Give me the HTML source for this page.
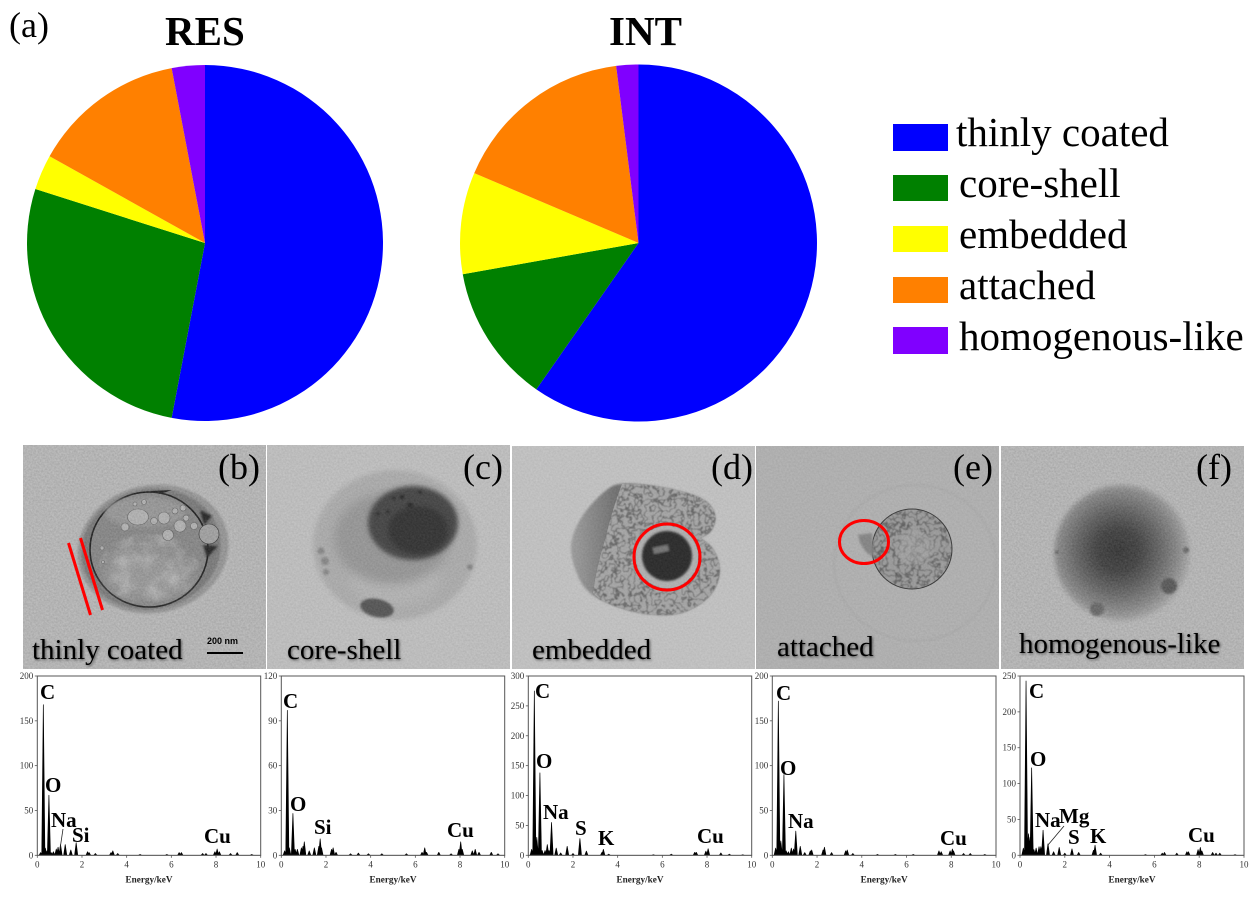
<!DOCTYPE html>
<html>
<head>
<meta charset="utf-8">
<title>Particle mixing states</title>
<style>
html,body{margin:0;padding:0;background:#fff;width:1260px;height:897px;overflow:hidden}
svg{display:block}
text{font-family:"Liberation Serif",serif;fill:#000}
.panel-letter{font-size:36px}
.panel-label{font-size:29px;filter:drop-shadow(1.2px 1.2px 1.2px rgba(0,0,0,.55))}
.legend-text{font-size:41px}
.title{font-size:41px;font-weight:bold}
.tick{font-size:9px;fill:#333}
.axis-title{font-size:9.2px;font-weight:bold;fill:#222}
.peak-label{font-size:21px;font-weight:bold}
</style>
</head>
<body>
<svg id="figure" xmlns="http://www.w3.org/2000/svg" width="1260" height="897" viewBox="0 0 1260 897">
<defs>
  <filter id="grain" x="0" y="0" width="100%" height="100%" color-interpolation-filters="sRGB">
    <feTurbulence type="fractalNoise" baseFrequency="0.55" numOctaves="2" seed="7"/>
    <feColorMatrix values="1 0 0 0 0  1 0 0 0 0  1 0 0 0 0  0 0 0 0 1"/>
  </filter>
  <filter id="cells" x="-5%" y="-5%" width="110%" height="110%" color-interpolation-filters="sRGB">
    <feTurbulence type="fractalNoise" baseFrequency="0.17" numOctaves="2" seed="4"/>
    <feColorMatrix values="0 0 0 0 0.15  0 0 0 0 0.15  0 0 0 0 0.15  1.5 0 0 0 -0.25"/>
    <feComponentTransfer><feFuncA type="table" tableValues="0 0 0 0 .6 0 0 0 0 0"/></feComponentTransfer>
    <feComposite in2="SourceAlpha" operator="in"/>
    <feGaussianBlur stdDeviation="0.5"/>
  </filter>
  <filter id="mottle" x="-5%" y="-5%" width="110%" height="110%" color-interpolation-filters="sRGB">
    <feTurbulence type="fractalNoise" baseFrequency="0.06" numOctaves="3" seed="11"/>
    <feColorMatrix values="0 0 0 0 0.8  0 0 0 0 0.8  0 0 0 0 0.8  2.4 0 0 0 -0.95"/>
    <feComposite in2="SourceAlpha" operator="in"/>
    <feGaussianBlur stdDeviation="0.7"/>
  </filter>
  <filter id="soft1"><feGaussianBlur stdDeviation="1"/></filter>
  <filter id="soft2"><feGaussianBlur stdDeviation="2.5"/></filter>
  <filter id="soft4" x="-30%" y="-30%" width="160%" height="160%"><feGaussianBlur stdDeviation="5"/></filter>
  <radialGradient id="gradF" cx="0.47" cy="0.48" r="0.52">
    <stop offset="0" stop-color="#333"/><stop offset="0.3" stop-color="#3f3f3f"/>
    <stop offset="0.6" stop-color="#666"/><stop offset="0.85" stop-color="#8c8c8c"/><stop offset="1" stop-color="#aaa"/>
  </radialGradient>
  <linearGradient id="gradD" x1="0" x2="1" y1="0" y2="0">
    <stop offset="0" stop-color="#a0a0a0"/><stop offset="0.3" stop-color="#727272"/><stop offset="0.6" stop-color="#777"/>
  </linearGradient>
  <clipPath id="clip-b"><rect x="23" y="445" width="243" height="224"/></clipPath>
  <clipPath id="clip-c"><rect x="267" y="445" width="243" height="224"/></clipPath>
  <clipPath id="clip-d"><rect x="512" y="446" width="243" height="223"/></clipPath>
  <clipPath id="clip-e"><rect x="756" y="446" width="243" height="223"/></clipPath>
  <clipPath id="clip-f"><rect x="1001" y="446" width="243" height="223"/></clipPath>
</defs>

<text class="panel-letter" x="9" y="37">(a)</text>
<text class="title" x="165" y="45">RES</text>
<text class="title" x="609" y="45">INT</text>
<g id="pies"></g>

<g id="legend">
  <g><rect x="893" y="124" width="55" height="27" fill="#0000ff"/><text class="legend-text" x="956" y="146">thinly coated</text></g>
  <g><rect x="893" y="175" width="55" height="26" fill="#008000"/><text class="legend-text" x="959" y="197">core-shell</text></g>
  <g><rect x="893" y="226" width="55" height="26" fill="#ffff00"/><text class="legend-text" x="959" y="248">embedded</text></g>
  <g><rect x="893" y="277" width="55" height="26" fill="#ff8000"/><text class="legend-text" x="959" y="299">attached</text></g>
  <g><rect x="893" y="327" width="55" height="27" fill="#8000ff"/><text class="legend-text" x="959" y="350">homogenous-like</text></g>
</g>

<!-- TEM panel b -->
<g clip-path="url(#clip-b)">
  <rect x="23" y="445" width="243" height="224" fill="#bdbdbd"/>
  <ellipse cx="153" cy="549" rx="76" ry="64" transform="rotate(-12 153 549)" fill="#9a9a9a" filter="url(#soft1)"/>
  <ellipse cx="151" cy="549" rx="70" ry="60" transform="rotate(-12 151 549)" fill="#7c7c7c" filter="url(#soft1)"/>
  <ellipse cx="149" cy="549.500" rx="59" ry="57.500" fill="#8a8a8a" stroke="#1c1c1c" stroke-width="1.6"/>
  <ellipse cx="148" cy="575" rx="44" ry="24" fill="#9d9d9d" filter="url(#soft4)"/>
  <ellipse cx="145" cy="512" rx="40" ry="15" fill="#9c9c9c" filter="url(#soft2)"/>
  <ellipse cx="149" cy="568" rx="50" ry="34" fill="#000" filter="url(#mottle)" opacity=".55"/>
  <g fill="#b8b8b8" stroke="#6a6a6a" stroke-width=".6">
    <ellipse cx="138" cy="517" rx="10.500" ry="8"/><circle cx="164" cy="518" r="6"/><circle cx="154" cy="521" r="3.500"/>
    <circle cx="180" cy="526" r="6"/><circle cx="168" cy="535" r="5.500"/><circle cx="209" cy="534" r="10" fill="#a6a6a6" stroke="#333"/>
    <circle cx="125" cy="527" r="4"/><circle cx="175" cy="511" r="3"/><circle cx="183" cy="508" r="3"/><circle cx="186" cy="518" r="3"/><circle cx="194" cy="526" r="3.500"/>
    <circle cx="144" cy="502" r="2.500"/><circle cx="135" cy="504" r="2"/><circle cx="102" cy="548" r="2"/><circle cx="103" cy="562" r="1.500"/>
  </g>
  <path d="M200 510 L212 516 L204 525Z M203 545 L218 546 L207 558Z" fill="#222" filter="url(#soft1)"/>
  <path d="M150 491 L172 490 L160 494Z" fill="#222"/>
  <rect x="23" y="445" width="243" height="224" filter="url(#grain)" opacity=".14"/>
  <line x1="68.500" y1="543" x2="90.500" y2="615" stroke="#ff0000" stroke-width="3"/>
  <line x1="80.500" y1="538" x2="102.500" y2="610" stroke="#ff0000" stroke-width="3"/>
  <text x="207" y="644" style="font-family:'Liberation Sans',sans-serif;font-size:9px;font-weight:bold">200 nm</text>
  <rect x="207" y="652" width="36" height="2" fill="#000"/>
  <text class="panel-label" x="32" y="659">thinly coated</text>
  <text class="panel-letter" x="218" y="479">(b)</text>
</g>

<!-- TEM panel c -->
<g clip-path="url(#clip-c)">
  <rect x="267" y="445" width="243" height="224" fill="#c4c4c4"/>
  <ellipse cx="395" cy="545" rx="82" ry="75" fill="#b0b0b0" filter="url(#soft2)"/>
  <ellipse cx="395" cy="580" rx="45" ry="25" fill="#b8b8b8" filter="url(#soft4)"/>
  <ellipse cx="392" cy="538" rx="58" ry="46" fill="#9a9a9a" filter="url(#soft4)"/>
  <ellipse cx="413" cy="523" rx="45" ry="37" fill="#454545" filter="url(#soft2)"/>
  <ellipse cx="418" cy="530" rx="30" ry="24" fill="#333" filter="url(#soft2)"/>
  <g fill="#222" filter="url(#soft1)"><circle cx="402" cy="497" r="2"/><circle cx="410" cy="505" r="2.500"/><circle cx="388" cy="512" r="1.500"/><circle cx="378" cy="514" r="1.500"/><circle cx="394" cy="498" r="1.500"/><circle cx="420" cy="492" r="1.500"/></g>
  <ellipse cx="377" cy="608" rx="17" ry="9" transform="rotate(12 377 608)" fill="#565656" filter="url(#soft1)"/>
  <g fill="#888" filter="url(#soft1)"><circle cx="321" cy="551" r="3.500"/><circle cx="325" cy="561" r="4"/><circle cx="326" cy="572" r="3"/><circle cx="470" cy="567" r="3"/></g>
  <rect x="267" y="445" width="243" height="224" filter="url(#grain)" opacity=".1"/>
  <text class="panel-label" x="287" y="659">core-shell</text>
  <text class="panel-letter" x="463" y="479">(c)</text>
</g>

<!-- TEM panel d -->
<g clip-path="url(#clip-d)">
  <rect x="512" y="446" width="243" height="223" fill="#c6c6c6"/>
  <path d="M642.500 484.500 Q665 487 685 492.500 Q705 498 711 506.500 Q717 515 714.500 523.500 Q712 532 706 535 L700 538 L706.500 542.500 Q713 547 717.500 558.500 Q722 570 717 583.500 Q712 597 697 606 Q682 615 665 615 Q648 615 631.500 611 Q615 607 600 599.500 Q585 592 578.500 577.500 Q572 563 571 551.500 Q570 540 576.500 526.500 Q583 513 594 501.500 Q605 490 612.500 486 Q620 482 642.500 484.500Z" fill="url(#gradD)" filter="url(#soft1)"/>
  <path d="M642.500 484.500 Q665 487 685 492.500 Q705 498 711 506.500 Q717 515 714.500 523.500 Q712 532 706 535 L700 538 L706.500 542.500 Q713 547 717.500 558.500 Q722 570 717 583.500 Q712 597 697 606 Q682 615 665 615 Q648 615 631.500 611 Q615 607 600 599.500 L593 593 Q597 565 605 540 Q612 510 622 484Z" fill="#a9a9a9"/>
  <path d="M642.500 484.500 Q665 487 685 492.500 Q705 498 711 506.500 Q717 515 714.500 523.500 Q712 532 706 535 L700 538 L706.500 542.500 Q713 547 717.500 558.500 Q722 570 717 583.500 Q712 597 697 606 Q682 615 665 615 Q648 615 631.500 611 Q615 607 600 599.500 L593 593 Q597 565 605 540 Q612 510 622 484Z" fill="#000" filter="url(#cells)"/>
  <circle cx="667" cy="557" r="31" fill="#b4b4b4"/>
  <circle cx="667" cy="556" r="25" fill="#2c2c2c" filter="url(#soft1)"/>
  <rect x="653" y="546" width="16" height="7" fill="#777" transform="rotate(-12 660 550)" filter="url(#soft1)"/>
  <rect x="512" y="446" width="243" height="223" filter="url(#grain)" opacity=".08"/>
  <circle cx="667" cy="557" r="33" fill="none" stroke="#ff0000" stroke-width="3"/>
  <text class="panel-label" x="532" y="659">embedded</text>
  <text class="panel-letter" x="711" y="479">(d)</text>
</g>

<!-- TEM panel e -->
<g clip-path="url(#clip-e)">
  <rect x="756" y="446" width="243" height="223" fill="#b4b4b4"/>
  <ellipse cx="915" cy="563" rx="81" ry="78" fill="none" stroke="#ababab" stroke-width="1.500" filter="url(#soft1)"/>
  <circle cx="912" cy="549" r="40" fill="#9e9e9e" stroke="#3a3a3a" stroke-width="1"/>
  <circle cx="912" cy="549" r="39.500" fill="#000" filter="url(#cells)"/>
  <circle cx="915" cy="548" r="17" fill="#acacac" opacity=".55" filter="url(#soft2)"/>
  <path d="M858 535 L872 533 L874 558 L866 552 L860 543Z" fill="#878787" filter="url(#soft1)"/>
  <rect x="756" y="446" width="243" height="223" filter="url(#grain)" opacity=".08"/>
  <ellipse cx="864" cy="542" rx="24.500" ry="21.500" fill="none" stroke="#ff0000" stroke-width="3"/>
  <text class="panel-label" x="777" y="656">attached</text>
  <text class="panel-letter" x="953" y="479">(e)</text>
</g>

<!-- TEM panel f -->
<g clip-path="url(#clip-f)">
  <rect x="1001" y="446" width="243" height="223" fill="#bdbdbd"/>
  <circle cx="1122" cy="553" r="68" fill="url(#gradF)" filter="url(#soft2)"/>
  <circle cx="1169" cy="586" r="8" fill="#585858" filter="url(#soft1)"/>
  <circle cx="1097" cy="609" r="7" fill="#6a6a6a" filter="url(#soft1)"/>
  <circle cx="1057" cy="552" r="2" fill="#666" filter="url(#soft1)"/>
  <circle cx="1186" cy="550" r="3" fill="#666" filter="url(#soft1)"/>
  <rect x="1001" y="446" width="243" height="223" filter="url(#grain)" opacity=".14"/>
  <text class="panel-label" x="1019" y="653">homogenous-like</text>
  <text class="panel-letter" x="1196" y="479">(f)</text>
</g>

<g id="spectra"></g>
</svg>

<script>
const SVGNS = 'http://www.w3.org/2000/svg';

// Pie data (percent)
const sliceNames = ['thinly coated', 'core-shell', 'embedded', 'attached', 'homogenous-like'];
const resShares = [53, 26.9, 3.2, 13.9, 3];
const intShares = [59.7, 12.5, 9.2, 16.6, 2];

// Tick labels
const energyTicks = [0, 2, 4, 6, 8, 10];
const ticksB = [0, 50, 100, 150, 200];
const ticksC = [0, 30, 60, 90, 120];
const ticksD = [0, 50, 100, 150, 200, 250, 300];
const ticksE = [0, 50, 100, 150, 200];
const ticksF = [0, 50, 100, 150, 200, 250];

// EDS spectra: energy (keV) and counts
const energyB = [0.15, 0.27, 0.36, 0.44, 0.52, 0.62, 0.72, 0.85, 0.93, 1.04, 1.25, 1.5, 1.74, 2.25, 2.32, 2.6, 3.3, 3.38, 3.6, 4.6, 5.8, 6.35, 6.45, 7.4, 7.55, 7.95, 8.05, 8.15, 8.65, 8.95, 9.6];
const countsB = [3, 168, 8, 5, 67, 3, 4, 7, 9, 12, 12, 6, 14, 4, 3, 2, 3, 5, 2, 1, 1, 3, 3, 2, 2, 4, 7, 4, 2, 3, 1];
const energyC = [0.15, 0.27, 0.36, 0.52, 0.62, 0.72, 0.9, 0.97, 1.03, 1.25, 1.48, 1.68, 1.74, 1.8, 2.25, 2.32, 2.45, 3.1, 3.45, 3.9, 4.5, 5.6, 6.3, 6.42, 6.5, 7.05, 7.6, 7.95, 8.03, 8.1, 8.55, 8.68, 8.85, 9.4, 9.7];
const countsC = [3, 97, 5, 28, 4, 4, 5, 6, 9, 3, 5, 6, 11, 5, 4, 5, 2, 1, 1.5, 1, 1, 1, 2, 5, 2, 2, 1, 4, 9, 4, 3, 4, 2, 2, 1];
const energyD = [0.15, 0.27, 0.38, 0.52, 0.62, 0.75, 0.85, 0.93, 1.04, 1.25, 1.45, 1.74, 2.0, 2.31, 2.6, 3.3, 3.36, 3.6, 5.6, 6.4, 7.45, 7.52, 7.95, 8.05, 8.62, 9.0, 9.6];
const countsD = [10, 275, 30, 138, 8, 8, 18, 8, 55, 12, 4, 15, 3, 28, 7, 5, 10, 2, 1, 2, 5, 5, 7, 11, 4, 2, 1];
const energyE = [0.15, 0.27, 0.38, 0.52, 0.62, 0.72, 0.85, 0.95, 1.05, 1.25, 1.45, 1.7, 1.76, 2.27, 2.33, 2.65, 3.28, 3.35, 3.6, 4.7, 5.5, 6.3, 7.45, 7.55, 7.95, 8.05, 8.1, 8.55, 8.85, 9.5];
const countsE = [8, 172, 16, 90, 5, 4, 8, 7, 27, 10, 3, 5, 6, 6, 9, 3, 5, 6, 2, 1, 1, 1, 5, 4, 5, 7, 5, 2, 2, 1];
const energyF = [0.15, 0.27, 0.38, 0.45, 0.52, 0.62, 0.72, 0.85, 0.93, 1.03, 1.25, 1.5, 1.75, 2.0, 2.32, 2.62, 3.28, 3.35, 3.6, 5.6, 6.35, 6.45, 7.0, 7.45, 7.52, 7.95, 8.05, 8.12, 8.6, 8.75, 8.92, 9.6];
const countsF = [10, 243, 30, 25, 122, 8, 10, 12, 12, 35, 16, 5, 11, 3, 9, 4, 7, 14, 3, 1, 3, 4, 3, 5, 5, 8, 11, 6, 4, 3, 3, 1];

const pieColors = ['#0000ff', '#008000', '#ffff00', '#ff8000', '#8000ff'];

function make(tag, attrs, parent) {
  const el = document.createElementNS(SVGNS, tag);
  for (const k in attrs) el.setAttribute(k, attrs[k]);
  parent.appendChild(el);
  return el;
}

function drawPie(shares, cx, cy, r, prefix) {
  const parent = document.getElementById('pies');
  const total = shares.reduce((a, b) => a + b, 0);
  const angleScale = v => v / total * 2 * Math.PI;
  let acc = 0;
  shares.forEach((v, i) => {
    const a0 = angleScale(acc);
    acc += v;
    const a1 = angleScale(acc);
    const large = a1 - a0 > Math.PI ? 1 : 0;
    const d = 'M' + cx + ' ' + cy +
      ' L' + (cx + r * Math.sin(a0)) + ' ' + (cy - r * Math.cos(a0)) +
      ' A' + r + ' ' + r + ' 0 ' + large + ' 1 ' + (cx + r * Math.sin(a1)) + ' ' + (cy - r * Math.cos(a1)) + 'Z';
    const el = make('path', { d: d, fill: pieColors[i] }, parent);
    
    
  });
}

drawPie(resShares, 205, 243, 178, 'res');
drawPie(intShares, 638.500, 243, 178.500, 'int');

function drawSpectrum(name, left, right, yTicks, energy, counts, labels, arrow) {
  const root = document.getElementById('spectra');
  const top = 676, bottom = 855.3;
  const yMax = yTicks[yTicks.length - 1];
  const xAxis = e => left + (right - left) * e / 10;
  const yAxis = c => bottom - (bottom - top) * c / yMax;
  const g = make('g', {}, root);
  
  

  let d = 'M' + xAxis(0) + ' ' + yAxis(0);
  const halfWidth = 0.07;
  energy.forEach((e, i) => {
    d += ' L' + xAxis(e - halfWidth) + ' ' + yAxis(0);
    d += ' L' + xAxis(e) + ' ' + yAxis(counts[i]);
    d += ' L' + xAxis(e + halfWidth) + ' ' + yAxis(0);
  });
  d += ' L' + xAxis(10) + ' ' + yAxis(0) + 'Z';
  const trace = make('path', { d: d, fill: '#000', stroke: '#000', 'stroke-width': '0.7', 'stroke-linejoin': 'round' }, g);
  
  

  const frame = make('rect', { x: left, y: top, width: right - left, height: bottom - top, fill: 'none', stroke: '#555', 'stroke-width': '1' }, g);
  
  

  energyTicks.forEach(v => {
    const x = xAxis(v);
    const t = make('line', { x1: x, x2: x, y1: bottom, y2: bottom + 2.5, stroke: '#555', 'stroke-width': '.8' }, g);
    
    
    const l = make('text', { x: x, y: bottom + 12, 'text-anchor': 'middle', class: 'tick' }, g);
    
    
    l.textContent = v;
  });
  yTicks.forEach(v => {
    const y = yAxis(v);
    const t = make('line', { x1: left - 2.5, x2: left, y1: y, y2: y, stroke: '#555', 'stroke-width': '.8' }, g);
    
    
    const l = make('text', { x: left - 4, y: y + 3, 'text-anchor': 'end', class: 'tick' }, g);
    
    
    l.textContent = v;
  });

  const title = make('text', { x: (left + right) / 2, y: bottom + 27, 'text-anchor': 'middle', class: 'axis-title' }, g);
  
  
  title.textContent = 'Energy/keV';

  labels.forEach(item => {
    const l = make('text', { x: item[1], y: item[2], class: 'peak-label' }, g);
    
    
    l.textContent = item[0];
  });

  if (arrow) {
    const a = make('line', { x1: arrow[0], y1: arrow[1], x2: arrow[2], y2: arrow[3], stroke: '#222', 'stroke-width': '.8' }, g);
    
    
  }
}

drawSpectrum('thinly-coated', 37.3, 260.7, ticksB, energyB, countsB,
  [['C', 40, 699], ['O', 45, 792], ['Na', 51, 827], ['Si', 72, 842], ['Cu', 204, 843]], [60, 849, 63, 829]);
drawSpectrum('core-shell', 281.3, 504.7, ticksC, energyC, countsC,
  [['C', 283, 708], ['O', 290, 811], ['Si', 314, 834], ['Cu', 447, 837]]);
drawSpectrum('embedded', 528.3, 751.7, ticksD, energyD, countsD,
  [['C', 535, 698], ['O', 536, 768], ['Na', 543, 819], ['S', 575, 835], ['K', 598, 845], ['Cu', 697, 843]]);
drawSpectrum('attached', 772.3, 996, ticksE, energyE, countsE,
  [['C', 776, 700], ['O', 780, 775], ['Na', 788, 828], ['Cu', 940, 845]]);
drawSpectrum('homogenous-like', 1020, 1244, ticksF, energyF, countsF,
  [['C', 1029, 698], ['O', 1030, 766], ['Na', 1035, 827], ['Mg', 1059, 823], ['S', 1068, 844], ['K', 1090, 843], ['Cu', 1188, 842]], [1048, 845, 1064, 826]);
</script>
</body>
</html>
